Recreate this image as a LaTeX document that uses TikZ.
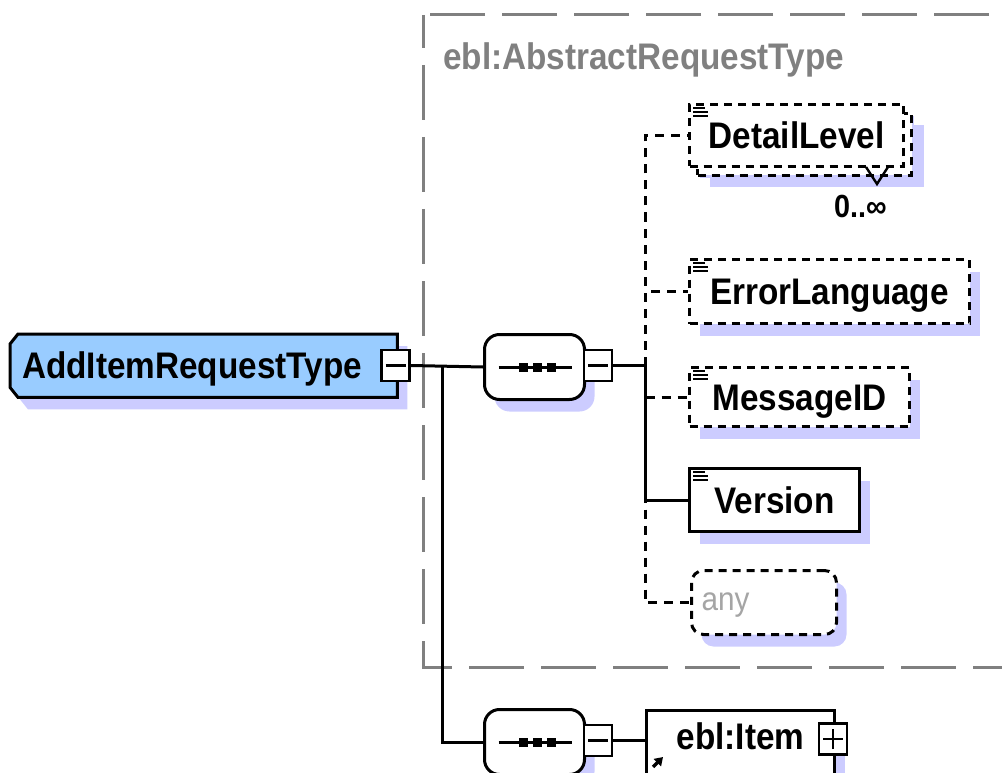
\documentclass[tikz,border=0pt]{standalone}
\usepackage{fontspec}
\setmainfont{Liberation Sans}[FakeStretch=0.9]
\usetikzlibrary{shadows,arrows.meta}

\definecolor{rootblue}{RGB}{153,204,255}
\definecolor{lilac}{RGB}{204,204,255}
\definecolor{groupgrey}{RGB}{128,128,128}
\definecolor{anygrey}{RGB}{165,165,165}

% small "documented" lines in the corner of an element box
\newcommand{\docmark}[1]{%
  \foreach \dy/\len in {5/12,9/15,13/15}
    \draw[line width=2pt] ([shift={(5,\dy)}]#1.north west) -- ++(\len,0);}

% sequence compositor: a line with three squares on it
\newcommand{\seqmark}[1]{%
  \draw[line width=3pt] ([xshift=-36pt]#1.center) -- ([xshift=37pt]#1.center);
  \foreach \dx in {-11,3,17}
    \fill ([xshift=\dx pt]#1.center) +(-4.5,-4.5) rectangle +(4.5,4.5);}

\newcommand{\minusmark}[1]{%
  \draw[line width=2.6pt] ([xshift=-10pt]#1.center) -- ([xshift=10pt]#1.center);}
\newcommand{\plusmark}[1]{%
  \minusmark{#1}
  \draw[line width=2.6pt] ([yshift=-10pt]#1.center) -- ([yshift=10pt]#1.center);}

\begin{document}
\begin{tikzpicture}[x=1pt, y=-1pt,
  font=\bfseries\fontsize{37}{40}\selectfont,
  link/.style={line width=3pt},
  optional/.style={dash pattern=on 9pt off 7pt},
  boxshadow/.style={general shadow={fill=lilac, shadow xshift=10pt, shadow yshift=-12pt}},
  elem/.style={rectangle, draw, fill=white, line width=3pt, boxshadow,
               text height=26pt, text depth=0pt, inner sep=0pt, anchor=north west},
  dashedbox/.style={dash pattern=on 8pt off 6pt},
  compositor/.style={rectangle, rounded corners=15pt, draw, fill=white, line width=3pt,
               boxshadow, minimum width=100pt, minimum height=65pt,
               inner sep=0pt, anchor=north west},
  button/.style={rectangle, draw, fill=white, line width=2.6pt,
               minimum width=28pt, minimum height=31pt, inner sep=0pt},
  group/.style={draw=groupgrey, line width=3pt, dash pattern=on 55pt off 17pt,
               dash phase=22pt}]

\useasboundingbox (0,0) rectangle (1002,773);

% base type frame
\draw[group] (423,15) rectangle (1015,667);
\node[anchor=base west, text=groupgrey, inner sep=0pt] (grouplabel) at (443,70)
  {ebl:AbstractRequestType};

% the complex type itself, cut corners on the left
\node[rectangle, minimum width=387pt, minimum height=63pt, inner sep=0pt,
      anchor=north west] (root) at (10,334) {};
\filldraw[fill=rootblue, line width=3pt, boxshadow]
  ([xshift=8pt]root.north west) -- (root.north east) -- (root.south east)
  -- ([xshift=8pt]root.south west) -- ([yshift=10pt]root.south west)
  -- ([yshift=-10pt]root.north west) -- cycle;
\node[anchor=base west, inner sep=0pt] (rootlabel) at (22,378) {AddItemRequestType};
\node[button] (rootminus) at (395.5,365.5) {};
\minusmark{rootminus}

% inherited sequence
\node[compositor] (seqA) at (483,333) {};
\seqmark{seqA}
\node[button] (minusA) at (598,365.5) {};
\minusmark{minusA}

\node[elem, dashedbox, minimum width=214pt, minimum height=62pt,
      general shadow={fill=lilac, shadow xshift=20pt, shadow yshift=-21pt},
      copy shadow={shadow xshift=8pt, shadow yshift=-9pt, dash pattern=on 8pt off 6pt,
                   line width=3pt}]
  (detail) at (688,103) {DetailLevel};
\docmark{detail}
\draw[line width=2.4pt] (866,167) -- (877,184) -- (888,167);
\node[anchor=base west, inner sep=0pt, font=\bfseries\fontsize{32}{34}\selectfont]
  (detailcard) at (834,218) {0..∞};

\node[elem, dashedbox, minimum width=280pt, minimum height=64pt] (errlang) at (688,258)
  {ErrorLanguage};
\docmark{errlang}

\node[elem, dashedbox, minimum width=220pt, minimum height=59pt] (msgid) at (688,366)
  {MessageID};
\docmark{msgid}

\node[elem, minimum width=170pt, minimum height=63pt] (version) at (688,467) {Version};
\docmark{version}

\node[elem, dashedbox, rounded corners=12pt, text width=125pt, inner xsep=10pt,
      align=left, minimum height=64pt, text height=15pt, text=anygrey,
      font=\fontsize{33}{36}\selectfont] (any) at (690,569) {any};

% own sequence
\node[compositor] (seqB) at (483,708) {};
\seqmark{seqB}
\node[button] (minusB) at (598,740.5) {};
\minusmark{minusB}

\node[elem, minimum width=188pt, minimum height=66pt, text depth=14pt] (item) at (645,709)
  {ebl:Item};
\node[button] (plusB) at (833,739) {};
\plusmark{plusB}
\draw[line width=3.4pt, -{Triangle[length=8pt,width=10pt]}]
  ([shift={(8,-11)}]item.south west) -- ++(10,-10);

% connectors
\coordinate (trunk) at (442,365.5);
\coordinate (bus) at (645,365.5);
\draw[link] (rootminus.east) -- (seqA.west);
\draw[link] (trunk) |- (seqB.west);
\draw[link] (minusA.east) -- (bus);
\draw[link, optional] (bus) |- (detail.west);
\draw[link, optional] (bus) |- (errlang.west);
\draw[link, optional] (bus) |- (msgid.west);
\draw[link, optional] (bus) |- (any.west);
\draw[link] (bus) |- (version.west);
\draw[link] (minusB.east) -- (minusB.east -| item.west);

\end{tikzpicture}
\end{document}
